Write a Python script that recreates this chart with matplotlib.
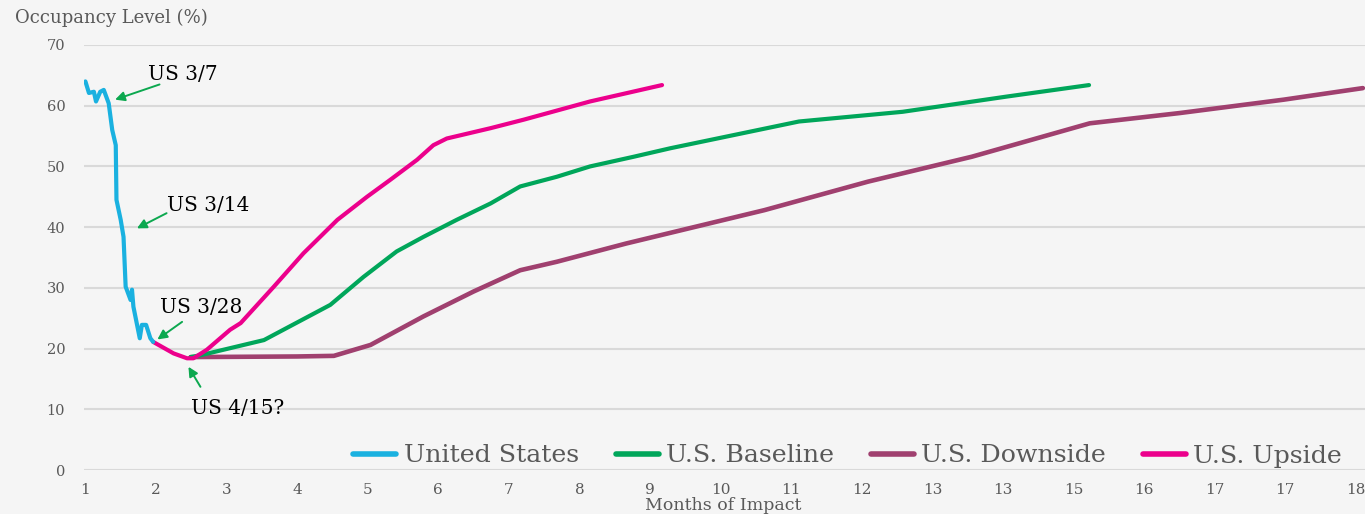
import matplotlib
matplotlib.use("Agg")
import matplotlib.pyplot as plt

# tick labels on the month axis (as printed in the source)
month_labels = ["1", "2", "3", "4", "5", "6", "7", "8", "9", "10",
                "11", "12", "13", "13", "15", "16", "17", "17", "18"]

# United States actual
us_x = [0.00, 0.05, 0.12, 0.15, 0.21, 0.26, 0.33, 0.38, 0.43, 0.44, 0.50,
        0.54, 0.57, 0.64, 0.66, 0.68, 0.77, 0.80, 0.86, 0.92, 0.96]
us_y = [64.0, 62.1, 62.3, 60.7, 62.3, 62.6, 60.4, 56.0, 53.5, 44.5, 41.2,
        38.4, 30.2, 28.0, 29.7, 26.9, 21.7, 23.9, 23.9, 21.7, 21.1]

# U.S. Upside
up_x = [0.96, 1.25, 1.44, 1.53, 1.72, 2.05, 2.20, 2.67, 3.09, 3.57, 3.99,
        4.32, 4.70, 4.93, 5.12, 5.74, 6.21, 7.15, 8.17]
up_y = [21.1, 19.2, 18.4, 18.4, 19.8, 23.1, 24.2, 30.2, 35.7, 41.2, 45.0,
        47.8, 51.1, 53.5, 54.6, 56.3, 57.7, 60.7, 63.4]

# U.S. Baseline
base_x = [1.49, 1.63, 2.53, 3.47, 3.94, 4.41, 4.79, 5.26, 5.74, 6.16,
          6.68, 7.15, 7.77, 8.29, 10.11, 11.58, 13.05, 14.22]
base_y = [18.6, 18.9, 21.4, 27.2, 31.8, 36.0, 38.4, 41.2, 43.9, 46.7,
          48.3, 50.0, 51.6, 53.0, 57.4, 59.0, 61.5, 63.4]

# U.S. Downside
down_x = [1.49, 3.00, 3.52, 4.04, 4.79, 5.50, 6.16, 6.68, 7.66, 9.62,
          11.09, 12.56, 14.23, 15.51, 16.98, 18.10]
down_y = [18.6, 18.7, 18.8, 20.6, 25.3, 29.4, 32.9, 34.3, 37.3, 42.8,
          47.5, 51.6, 57.1, 58.8, 61.0, 62.9]

# annotations: text, text pos, arrow tail, arrow tip
notes = [
    ("US 3/7", (0.88, 65.2), (1.05, 63.5), (0.42, 61.0)),
    ("US 3/14", (1.16, 43.5), (1.15, 42.3), (0.73, 39.8)),
    ("US 3/28", (1.06, 26.7), (1.37, 24.4), (1.02, 21.5)),
    ("US 4/15?", (1.49, 10.2), (1.63, 13.7), (1.46, 17.0)),
]

gray = "#595959"
serif = "DejaVu Serif"

fig = plt.figure(figsize=(13.65, 5.14), dpi=100, facecolor="#f5f5f5")
ax = fig.add_axes([84 / 1365, 1 - 470 / 514, 1 - 84 / 1365, (470 - 45) / 514])
ax.set_facecolor("none")

ax.plot(up_x, up_y, color="#ec008c", lw=3, solid_capstyle="round", label="U.S. Upside", zorder=4)
ax.plot(us_x, us_y, color="#1ab1e0", lw=3, solid_capstyle="round", label="United States", zorder=5)
ax.plot(base_x, base_y, color="#00a65a", lw=3, solid_capstyle="round", label="U.S. Baseline", zorder=3)
ax.plot(down_x, down_y, color="#a0406f", lw=3.3, solid_capstyle="round", label="U.S. Downside", zorder=2)

for txt, tpos, tail, tip in notes:
    ax.text(tpos[0], tpos[1], txt, family=serif, fontsize=14.5, color="black",
            ha="left", va="center", zorder=6)
    ax.annotate("", xy=tip, xytext=tail,
                arrowprops=dict(arrowstyle="-|>", color="#0ca84f", lw=1.4,
                                mutation_scale=14, shrinkA=0, shrinkB=0))

ax.set_xlim(-0.02, 18.13)
ax.set_ylim(0, 70)
ax.set_yticks(range(0, 71, 10))
ax.set_xticks(range(len(month_labels)))
ax.set_xticklabels(month_labels)
ax.grid(axis="y", color="#d9d9d9", lw=1.5)
ax.set_axisbelow(True)
for s in ax.spines.values():
    s.set_visible(False)
ax.tick_params(axis="both", length=0, colors=gray)
ax.tick_params(axis="y", pad=13.5, labelsize=10.5)
ax.tick_params(axis="x", pad=9, labelsize=11)
for lab in ax.get_yticklabels() + ax.get_xticklabels():
    lab.set_family(serif)

fig.text(15 / 1365, 1 - 18 / 514, "Occupancy Level (%)", family=serif,
         fontsize=13, color=gray, ha="left", va="center")
fig.text(723 / 1365, 1 - 505.5 / 514, "Months of Impact", family=serif,
         fontsize=12.5, color=gray, ha="center", va="center")

handles, labels = ax.get_legend_handles_labels()
order = ["United States", "U.S. Baseline", "U.S. Downside", "U.S. Upside"]
hmap = dict(zip(labels, handles))
leg = ax.legend([hmap[k] for k in order], order, ncol=4, frameon=False,
                loc="center right", bbox_to_anchor=(1342 / 1365, 1 - 456 / 514),
                bbox_transform=fig.transFigure, borderaxespad=0, borderpad=0,
                handlelength=1.7, handletextpad=0.3, columnspacing=1.45,
                prop={"family": serif, "size": 18.2})
for t in leg.get_texts():
    t.set_color(gray)
for l in leg.get_lines():
    l.set_linewidth(4)

fig.savefig("out.png", dpi=100, facecolor=fig.get_facecolor())
